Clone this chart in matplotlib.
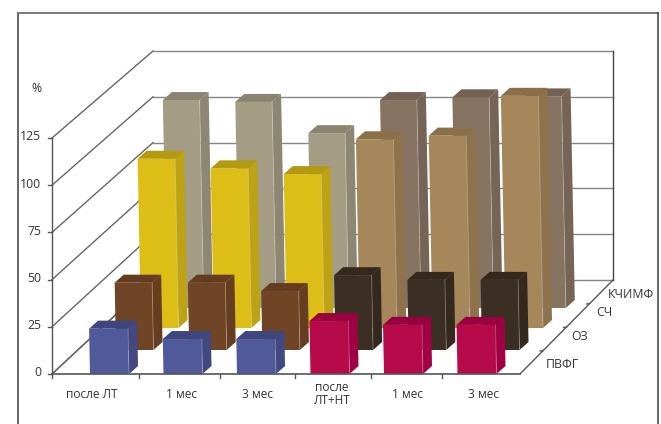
import numpy as np
import matplotlib
matplotlib.use("Agg")
import matplotlib.pyplot as plt
from matplotlib.patches import Polygon

plt.rcParams["font.family"] = ["Open Sans", "DejaVu Sans"]

# values, one list per row of bars (front to back)
categories = ["после ЛТ", "1 мес", "3 мес", "после\nЛТ+НТ", "1 мес", "3 мес"]
series = ["ПВФГ", "ОЗ", "СЧ", "КЧИМФ"]
pvfg = [24, 18.5, 18.5, 28, 26, 26]
oz = [36, 36, 31.5, 40, 37.5, 37.5]
sch = [91.5, 86.3, 83.2, 102, 104, 125.5]
kchimf = [113, 112, 95, 113, 114.5, 115]
y_ticks = [0, 25, 50, 75, 100, 125]

rows = [pvfg, oz, sch, kchimf]

# pixel layout of the fake 3d box
X_FRONT = (52, 520)
X_BACK = (153, 613)
Y0_FRONT, Y125_FRONT = 374, 138
Y0_BACK, Y125_BACK = 280, 51

row_x0 = [90, 116, 141, 167]
row_step = [73.5, 73.2, 72.9, 72.4]
row_floor = [374, 350, 328, 308]
row_scale = [1.89, 1.87, 1.85, 1.84]
bar_w = [39, 37.5, 37.5, 36.8]
depth_x, depth_y = 9, 8
lean = 0.02

# (front, side, top) for the first three and the last three bars of each row
colors = [
    [("#50599a", "#414882", "#3e457f"), ("#b70a4a", "#a20044", "#98003f")],
    [("#6f4526", "#653e21", "#643c1f"), ("#3b2e22", "#34291e", "#35291e")],
    [("#dcbe17", "#bda314", "#b39a10"), ("#a6865b", "#8e724c", "#8b6f48")],
    [("#a49c85", "#8d8672", "#8a8370"), ("#877361", "#766557", "#736254")],
]

GRID = "#858585"
AXIS = "#555555"
TEXT = "#333333"

fig = plt.figure(figsize=(6.61, 4.24), dpi=100)
ax = fig.add_axes([0, 0, 1, 1])
ax.set_xlim(0, 661)
ax.set_ylim(424, 0)
ax.axis("off")

# outer frame, open at the bottom
ax.plot([18, 18], [424, 13], color="#3a3a3a", lw=1.1)
ax.plot([18, 658], [13, 13], color="#707070", lw=1.3)
ax.plot([658, 658], [13, 424], color="#3a3a3a", lw=1.1)

# walls: gridlines on the left side and along the back
for t in y_ticks:
    yf = Y0_FRONT + (Y125_FRONT - Y0_FRONT) * t / 125
    yb = Y0_BACK + (Y125_BACK - Y0_BACK) * t / 125
    ax.plot([X_FRONT[0], X_BACK[0]], [yf, yb], color="#666666", lw=1.0)
    ax.plot([X_BACK[0], X_BACK[1]], [yb, yb], color=GRID, lw=1.0)
    ax.plot([X_FRONT[0] - 4, X_FRONT[0]], [yf, yf], color=AXIS, lw=1.0)
    ax.text(41, yf - 1, str(t), ha="right", va="center", fontsize=8.8, color=TEXT)

ax.plot([X_BACK[1], X_BACK[1]], [Y125_BACK, Y0_BACK], color="#444444", lw=1.0)
ax.plot([X_FRONT[0], X_FRONT[0]], [Y125_FRONT, Y0_FRONT], color=AXIS, lw=1.0)
ax.plot([X_FRONT[1], X_BACK[1]], [Y0_FRONT, Y0_BACK], color=AXIS, lw=1.0)
ax.text(36, 88, "%", ha="center", va="center", fontsize=8.8, color=TEXT)


def draw_bar(x, floor, h, w, cols):
    front, side, top = cols
    xt = x - lean * h
    ytop = floor - h
    ax.add_patch(Polygon([(x, floor), (x + w, floor), (xt + w, ytop), (xt, ytop)],
                         fc=front, ec="none", zorder=3))
    ax.add_patch(Polygon([(x + w, floor), (x + w + depth_x, floor - depth_y),
                          (xt + w + depth_x, ytop - depth_y), (xt + w, ytop)],
                         fc=side, ec="none", zorder=3))
    ax.add_patch(Polygon([(xt, ytop), (xt + w, ytop),
                          (xt + w + depth_x, ytop - depth_y), (xt + depth_x, ytop - depth_y)],
                         fc=top, ec="none", zorder=3))
    # pale edge between the front and the side
    ax.plot([x + w, xt + w], [floor, ytop], color="white", alpha=0.3, lw=0.6, zorder=3)


# back row first so the nearer bars cover it
for r in range(len(rows) - 1, -1, -1):
    for i, v in enumerate(rows[r]):
        x = row_x0[r] + i * row_step[r]
        draw_bar(x, row_floor[r], v * row_scale[r], bar_w[r], colors[r][i // 3])

# floor edges go over the bars' feet
ax.plot([X_FRONT[0], X_BACK[0]], [Y0_FRONT, Y0_BACK], color="#666666", lw=1.0, zorder=1)
ax.plot([X_FRONT[0], X_FRONT[1]], [Y0_FRONT, Y0_FRONT], color=AXIS, lw=1.2, zorder=4)

for xt in [52, 139, 220, 295, 371, 442]:
    ax.plot([xt, xt], [Y0_FRONT, Y0_FRONT + 4], color=AXIS, lw=1.0, zorder=4)

cat_x = [92, 182, 258, 332, 407, 483]
for x, c in zip(cat_x, categories):
    ax.text(x, 394, c, ha="center", va="center", fontsize=8.6, color=TEXT, linespacing=1.0)

# series names and their ticks on the right floor edge
series_x = [562, 580, 604, 631]
series_y = [365, 336, 313, 294]
for x, y, s in zip(series_x, series_y, series):
    ax.text(x, y, s, ha="center", va="center", fontsize=8.8, color=TEXT)
for frac in [0.25, 0.5, 0.75]:
    x = X_FRONT[1] + frac * (X_BACK[1] - X_FRONT[1])
    y = Y0_FRONT + frac * (Y0_BACK - Y0_FRONT)
    ax.plot([x - 3, x], [y + 0.5, y], color=AXIS, lw=1.0)

fig.savefig("out.png", dpi=100)
plt.close(fig)
